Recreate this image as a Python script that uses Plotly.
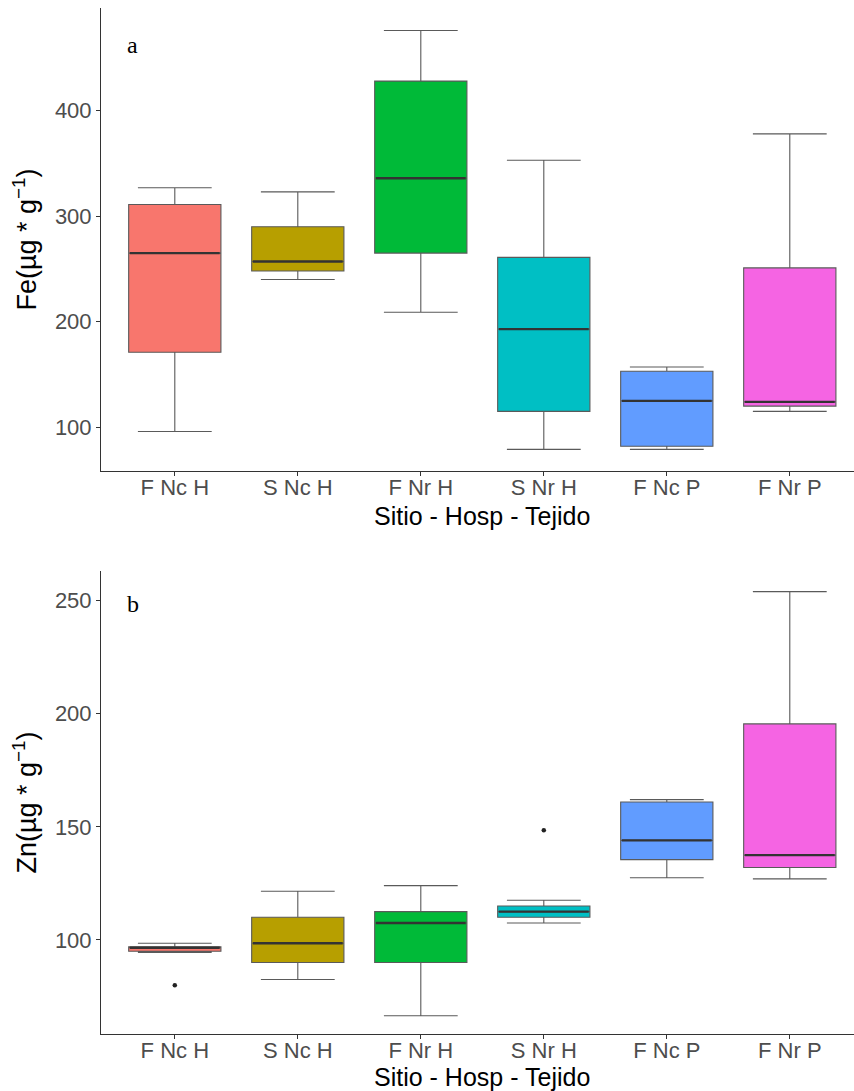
import plotly.graph_objects as go

# Groups: site - host - tissue
categories = ["F Nc H", "S Nc H", "F Nr H", "S Nr H", "F Nc P", "F Nr P"]
fill_colors = ["#F8766D", "#B79F00", "#00BA38", "#00BFC4", "#619CFF", "#F564E3"]

# Fe (µg g-1) box statistics
fe_lower = [96, 240, 209, 79, 79, 115]
fe_q1 = [171, 248, 265, 115, 82, 120]
fe_median = [265, 257, 336, 193, 125, 124]
fe_q3 = [311, 290, 428, 261, 153, 251]
fe_upper = [327, 323, 476, 353, 157, 378]
fe_outliers = [[], [], [], [], [], []]

# Zn (µg g-1) box statistics
zn_lower = [94.5, 82.5, 66.5, 107.5, 127.5, 127]
zn_q1 = [95, 90, 90, 110, 135.5, 132]
zn_median = [96.5, 98.5, 107.5, 112.5, 144, 137.5]
zn_q3 = [97, 110, 112.5, 115, 161, 195.5]
zn_upper = [98.5, 121.5, 124, 117.5, 162, 254]
zn_outliers = [[80], [], [], [148.5], [], []]

BOX_W = 0.75
CAP_W = 0.6
FONT = "Liberation Sans, Arial, sans-serif"
SERIF = "Liberation Serif, Times New Roman, serif"

fig = go.Figure()


def add_panel(lower, q1, med, q3, upper, outliers, xa, ya):
    for i, cat in enumerate(categories):
        fig.add_trace(go.Box(
            x=[i], q1=[q1[i]], median=[med[i]], q3=[q3[i]],
            lowerfence=[lower[i]], upperfence=[upper[i]],
            width=BOX_W, whiskerwidth=CAP_W / BOX_W,
            fillcolor=fill_colors[i], line=dict(color="#5a5a5a", width=1.1),
            boxpoints=False, showlegend=False, name=cat,
            xaxis=xa, yaxis=ya, hoverinfo="skip",
        ))
        # thicker median bar, as in ggplot
        fig.add_trace(go.Scatter(
            x=[i - BOX_W / 2 + 0.01, i + BOX_W / 2 - 0.01], y=[med[i], med[i]],
            mode="lines", line=dict(color="#333333", width=2.4),
            showlegend=False, xaxis=xa, yaxis=ya, hoverinfo="skip",
        ))
        if outliers[i]:
            fig.add_trace(go.Scatter(
                x=[i] * len(outliers[i]), y=outliers[i], mode="markers",
                marker=dict(color="#222222", size=4.5),
                showlegend=False, xaxis=xa, yaxis=ya, hoverinfo="skip",
            ))


add_panel(fe_lower, fe_q1, fe_median, fe_q3, fe_upper, fe_outliers, "x", "y")
add_panel(zn_lower, zn_q1, zn_median, zn_q3, zn_upper, zn_outliers, "x2", "y2")

H = 1091.0
x_common = dict(
    tickmode="array", tickvals=list(range(len(categories))), ticktext=categories,
    range=[-0.6, 5.522], showgrid=False, zeroline=False,
    showline=True, linecolor="#333333", linewidth=1,
    ticks="outside", ticklen=4, tickcolor="#333333", ticklabelstandoff=-7,
    tickfont=dict(family=FONT, size=22, color="#4d4d4d"),
)
y_common = dict(
    showgrid=False, zeroline=False, showline=True, linecolor="#333333", linewidth=1,
    ticks="outside", ticklen=4, tickcolor="#333333",
    tickfont=dict(family=FONT, size=22, color="#4d4d4d"),
)

fig.update_layout(
    width=854, height=1091,
    margin=dict(l=101, r=0, t=0, b=0),
    paper_bgcolor="white", plot_bgcolor="white",
    xaxis=dict(**x_common, domain=[0, 1], anchor="y"),
    yaxis=dict(**y_common, domain=[1 - 471 / H, 1 - 8 / H], anchor="x",
               range=[58.5, 497.3], tickvals=[100, 200, 300, 400],
               title=dict(text="Fe(µg * g<sup>−1</sup>)",
                          font=dict(family=FONT, size=27, color="#000000"), standoff=10)),
    xaxis2=dict(**x_common, domain=[0, 1], anchor="y2"),
    yaxis2=dict(**y_common, domain=[1 - 1034 / H, 1 - 571 / H], anchor="x2",
                range=[58.4, 263.1], tickvals=[100, 150, 200, 250],
                title=dict(text="Zn(µg * g<sup>−1</sup>)",
                           font=dict(family=FONT, size=27, color="#000000"), standoff=10)),
)

# x-axis titles, one under each panel
for ypx, xref in [(516, "x"), (1077, "x2")]:
    fig.add_annotation(text="Sitio - Hosp - Tejido", x=2.5, xref=xref,
                       y=1 - ypx / H, yref="paper", yanchor="middle", showarrow=False,
                       font=dict(family=FONT, size=25, color="#000000"))

fig.add_annotation(text="a", x=-0.34, y=462, xref="x", yref="y", showarrow=False,
                   font=dict(family=SERIF, size=24, color="#000"))
fig.add_annotation(text="b", x=-0.34, y=248.5, xref="x2", yref="y2", showarrow=False,
                   font=dict(family=SERIF, size=24, color="#000"))

fig.write_html("out.html")
